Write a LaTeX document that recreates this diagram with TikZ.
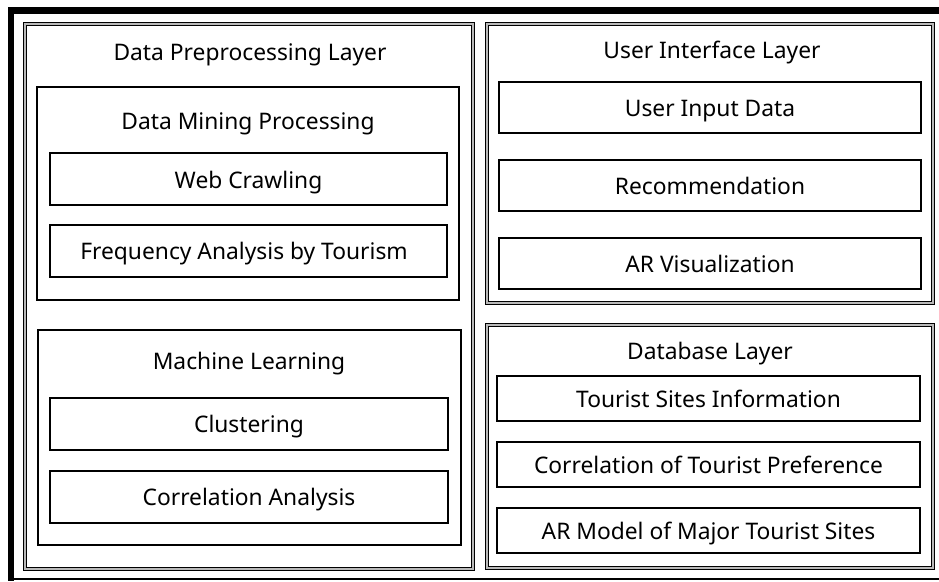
\documentclass[tikz,border=0pt]{standalone}
\usepackage{fontspec}
\setmainfont{Noto Sans}
\begin{document}
\begin{tikzpicture}[x=1pt,y=-1pt,
  layer/.style={draw=black,line width=0.9pt,double=gray!55,double distance=1.4pt},
  group/.style={draw=black,line width=2.2pt},
  item/.style={draw=black,line width=1.4pt},
  lbl/.style={inner sep=0pt,anchor=base,font=\fontsize{22.8}{26}\selectfont}]
\useasboundingbox (0,0) rectangle (939,581);
% outer frame
\draw[line width=1.2pt] (11,579) -- (939,579);
\draw[line width=6.5pt] (939,10.5) -- (11.2,10.5) -- (11.2,581);
% layers
\draw[layer] (25,24) rectangle (473,569);
\draw[layer] (487,24) rectangle (933,303);
\draw[layer] (487,325) rectangle (933,568);
% groups
\draw[group] (37,87) rectangle (459,300);
\draw[group] (38,330) rectangle (461,545);
% items
\draw[item] (50,153) rectangle (447,205);
\draw[item] (50,225) rectangle (447,277);
\draw[item] (50,398) rectangle (448,450);
\draw[item] (50,471) rectangle (448,523);
\draw[item] (499,82) rectangle (921,133);
\draw[item] (499,160) rectangle (921,211);
\draw[item] (499,238) rectangle (921,289);
\draw[item] (497,376) rectangle (920,421);
\draw[item] (497,442) rectangle (920,487);
\draw[item] (497,508) rectangle (920,553);
% labels (base line = cap middle + 8.5)
\node[lbl] (t1) at (250,60.5) {Data Preprocessing Layer};
\node[lbl] (t2) at (248,129.5) {Data Mining Processing};
\node[lbl] (t3) at (248.5,188.5) {Web Crawling};
\node[lbl] (t4) at (244,259.5) {Frequency Analysis by Tourism};
\node[lbl] (t5) at (249,369.5) {Machine Learning};
\node[lbl] (t6) at (249,432.5) {Clustering};
\node[lbl] (t7) at (249,505.5) {Correlation Analysis};
\node[lbl] (t8) at (712,58.5) {User Interface Layer};
\node[lbl] (t9) at (710,116.5) {User Input Data};
\node[lbl] (t10) at (710,194.5) {Recommendation};
\node[lbl] (t11) at (710,272.5) {AR Visualization};
\node[lbl] (t12) at (710,359.5) {Database Layer};
\node[lbl] (t13) at (708.5,407.5) {Tourist Sites Information};
\node[lbl] (t14) at (708.5,473.5) {Correlation of Tourist Preference};
\node[lbl] (t15) at (708.5,539.5) {AR Model of Major Tourist Sites};
\end{tikzpicture}
\end{document}
